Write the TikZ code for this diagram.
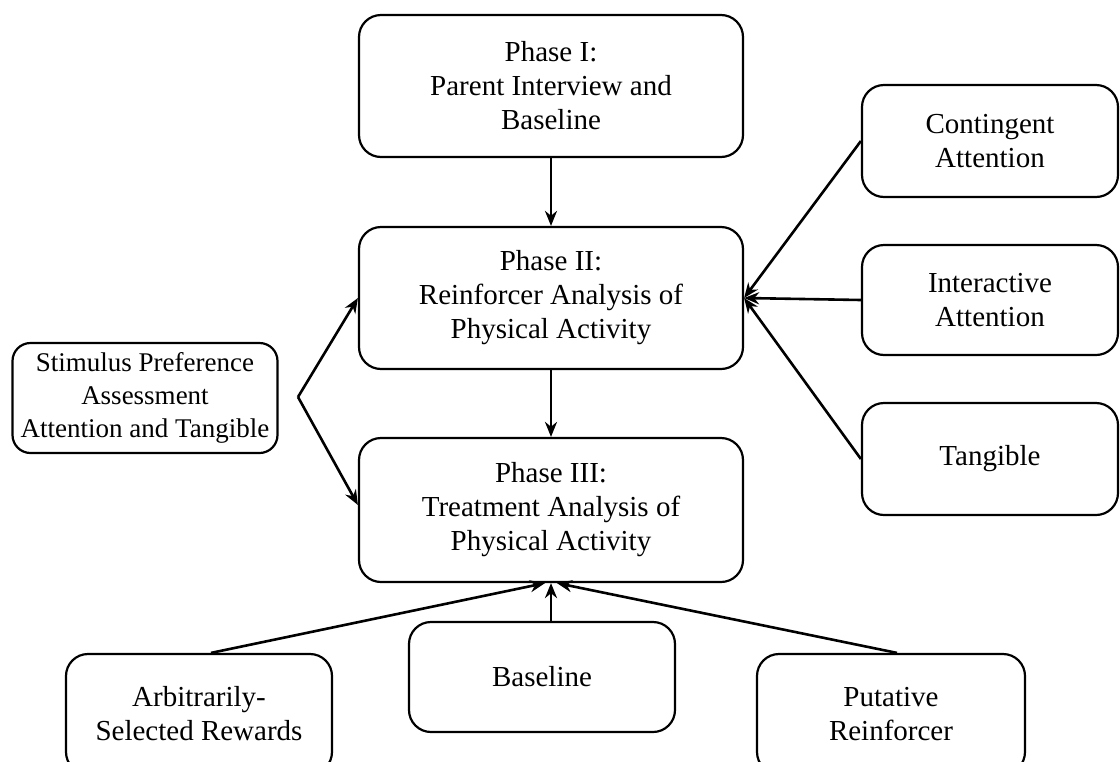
\documentclass[tikz,border=0pt]{standalone}
\usepackage{fontspec}
\setmainfont{Liberation Serif}
\usetikzlibrary{arrows.meta}
\tikzset{
	box/.style={draw, line width=2.2pt, rounded corners=22pt, align=center,
		inner sep=0pt, font=\fontsize{29}{34}\selectfont},
	link/.style={line width=2.6pt, -{Stealth[length=15pt,width=12pt]}}}

\begin{document}
\begin{tikzpicture}[x=1pt,y=-1pt]
\useasboundingbox (0,0) rectangle (1120,761);
\clip (0,0) rectangle (1120,761);

% phases
\node[box, minimum width=384pt, minimum height=142pt] (phaseI) at (551,86) {Phase I:\\Parent Interview and\\Baseline};
\node[box, minimum width=384pt, minimum height=142pt] (phaseII) at (551,298) {Phase II:\\Reinforcer Analysis of\\Physical Activity};
\node[box, minimum width=384pt, minimum height=144pt] (phaseIII) at (551,510) {Phase III:\\Treatment Analysis of\\Physical Activity};

% left
\node[box, rounded corners=18pt, minimum width=265pt, minimum height=110pt, font=\fontsize{27}{33}\selectfont] (stim) at (145,398) {Stimulus Preference\\Assessment\\Attention and Tangible};
\coordinate (fork) at (298,397);

% right
\node[box, minimum width=256pt, minimum height=112pt] (cont) at (990,141) {Contingent\\Attention};
\node[box, minimum width=256pt, minimum height=110pt] (inter) at (990,300) {Interactive\\Attention};
\node[box, minimum width=256pt, minimum height=112pt] (tang) at (990,459) {Tangible};

% bottom
\node[box, minimum width=266pt, minimum height=120pt] (arb) at (199,714) {Arbitrarily-\\Selected Rewards};
\node[box, minimum width=266pt, minimum height=110pt] (base) at (542,677) {Baseline};
\node[box, minimum width=268pt, minimum height=120pt] (put) at (891,714) {Putative\\Reinforcer};

\draw[link] (phaseI) -- (phaseII);
\draw[link] (phaseII) -- (phaseIII);
\draw[link] (fork) -- (phaseII.west);
\draw[link] (fork) -- ([yshift=5pt]phaseIII.west);
\foreach \src in {cont,inter,tang}
	\draw[link] (\src.west) -- (phaseII.east);
\draw[link] ([xshift=12pt]arb.north) -- ([xshift=-6pt]phaseIII.south);
\draw[link] ([xshift=9pt]base.north) -- (phaseIII.south);
\draw[link] ([xshift=6pt]put.north) -- ([xshift=6pt]phaseIII.south);
\end{tikzpicture}
\end{document}
